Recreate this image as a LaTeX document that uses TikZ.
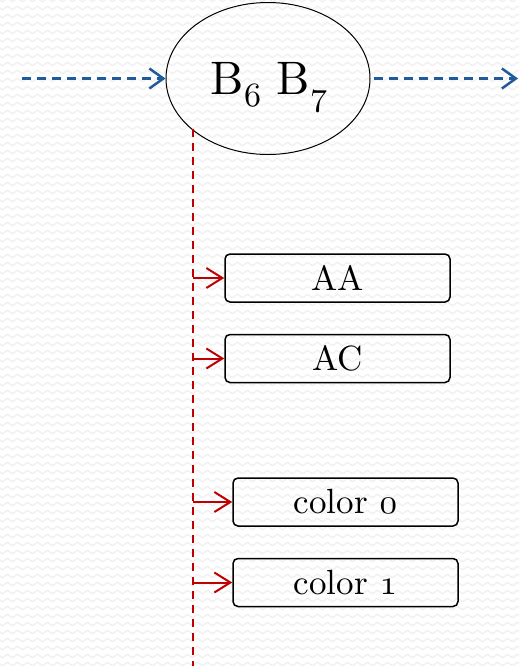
\documentclass[tikz,border=0pt]{standalone}
\usetikzlibrary{shapes.geometric,arrows.meta}
\definecolor{flowblue}{HTML}{1F5A9A}
\definecolor{flowred}{HTML}{C00000}
% text faces at the 10pt design size, scaled up
\font\statefont="[lmroman10-regular.otf]" at 47pt
\font\boxfont="[lmroman10-regular.otf]" at 35pt
% old-style figures come from the math italic font
\font\subdigits=cmmi10 at 34pt
\font\boxdigits=cmmi10 at 35pt
\newcommand{\lowdigit}[2]{\raisebox{-#1}{\subdigits #2}}
\tikzset{
  stateell/.style={ellipse, draw=black, line width=1pt, minimum width=204pt, minimum height=152pt, inner sep=0pt},
  itembox/.style={draw=black, line width=1.5pt, rounded corners=5pt, minimum width=225pt, minimum height=48pt, inner sep=0pt, font=\boxfont},
  flowarrow/.style={draw=flowblue, line width=2.5pt, dash pattern=on 9pt off 6pt, -{Straight Barb[length=14pt,width=20pt]}},
  busline/.style={draw=flowred, line width=1.5pt, dash pattern=on 8pt off 6pt},
  feedarrow/.style={draw=flowred, line width=2pt, -{Straight Barb[length=16pt,width=20pt]}},
  waves/.style={draw=black!6, line width=1.4pt}
}
\begin{document}
\begin{tikzpicture}[x=1pt,y=-1pt]
  \useasboundingbox (0,0) rectangle (519,666);
  % faint wavy background texture
  \begin{scope}
    \clip (0,0) rectangle (519,666);
    \foreach \r in {0,8,...,672}{
      \draw[waves] plot[domain=0:530, samples=266, smooth] (\x, {\r+1.6*sin(mod(\x,10)*36)});
    }
  \end{scope}

  % central state
  \node[stateell] (state) at (268,78.5) {};
  \node[anchor=base, inner sep=0pt] (statelabel) at (269,95)
    {\statefont B\lowdigit{12pt}{6} B\lowdigit{11pt}{7}};

  % incoming / outgoing flow
  \coordinate (inflow) at (22,78.5);
  \coordinate (outflow) at (518,78.5);
  \draw[flowarrow] (inflow) -- (state.west);
  \draw[flowarrow] ([xshift=3pt]state.east) -- (outflow);

  % item boxes
  \node[itembox] (aa) at (337.5,278) {AA};
  \node[itembox] (ac) at (337.5,358.5) {AC};
  \node[itembox] (c0) at (345.5,502) {color {\boxdigits 0}};
  \node[itembox] (c1) at (345.5,582.5) {color {\boxdigits 1}};

  % dashed bus down from the state
  \coordinate (bustop) at (193,128.5);
  \coordinate (busend) at (193,666);
  \draw[busline] (bustop) -- (busend);

  % taps from the bus into the boxes
  \coordinate (taa) at (193,278);
  \coordinate (tac) at (193,358.5);
  \coordinate (tc0) at (193,502);
  \coordinate (tc1) at (193,582.5);
  \draw[feedarrow] (taa) -- (aa.west);
  \draw[feedarrow] (tac) -- (ac.west);
  \draw[feedarrow] (tc0) -- (c0.west);
  \draw[feedarrow] (tc1) -- (c1.west);
\end{tikzpicture}
\end{document}
